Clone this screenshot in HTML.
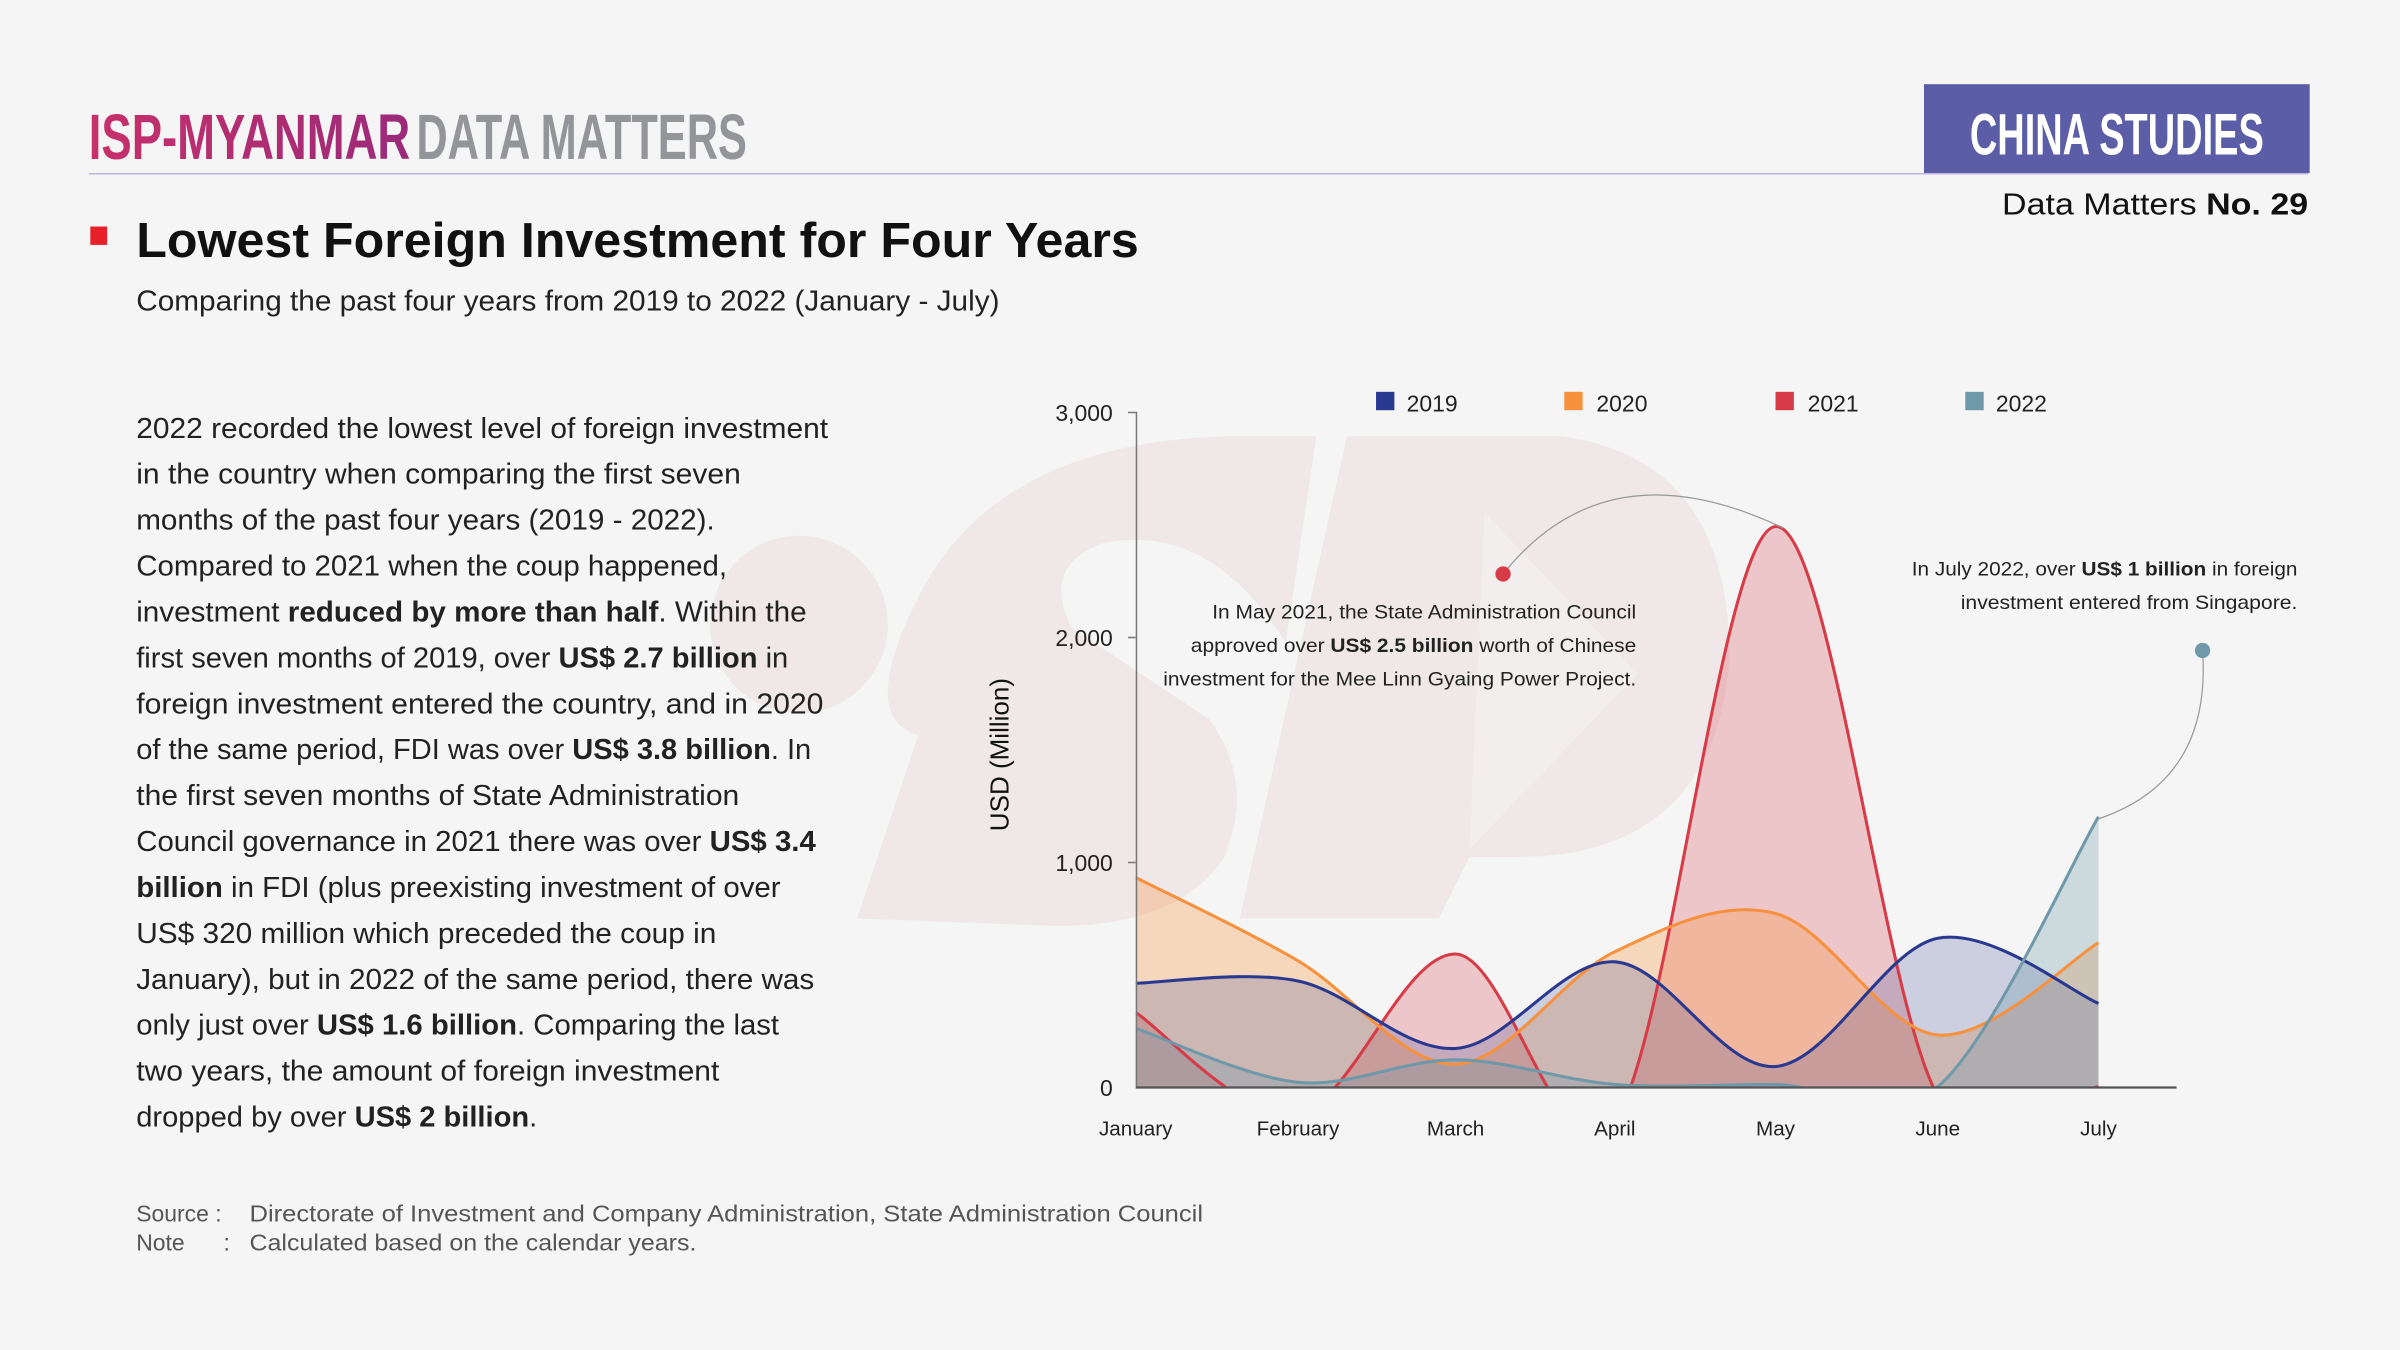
<!DOCTYPE html>
<html><head><meta charset="utf-8"><style>
html,body{margin:0;padding:0;background:#f4f5f4}
svg{display:block}
text{font-family:"Liberation Sans",sans-serif}
</style></head><body>
<svg width="2400" height="1350" viewBox="0 0 1568 882" preserveAspectRatio="none" xmlns="http://www.w3.org/2000/svg">
<defs>
<linearGradient id="g1" x1="0" x2="1"><stop offset="0" stop-color="#c8306a"/><stop offset="1" stop-color="#9a2a7a"/></linearGradient>
<clipPath id="cp"><rect x="742" y="250" width="690" height="460"/></clipPath>
</defs>
<rect width="1568" height="882" fill="#f4f5f4"/>
<!-- watermark -->
<g fill="#f0e7e8">
<circle cx="522" cy="408" r="58"/>
<path d="M 560 600 L 600 480 Q 560 470 600 390 Q 650 290 800 285 L 860 285 L 840 420 Q 790 340 720 355 Q 680 370 700 410 L 790 470 Q 820 510 800 560 Q 770 605 690 605 Z"/>
<path d="M 880 285 L 1020 285 Q 1130 300 1130 430 Q 1120 560 990 560 L 960 560 L 940 600 L 810 600 Z" />
</g>
<path d="M 970 335 L 1070 440 L 960 555 Z" fill="#f4f5f4" opacity="0.5"/>
<!-- header -->
<text x="58" y="104" font-size="42" font-weight="bold" fill="url(#g1)" textLength="210" lengthAdjust="spacingAndGlyphs">ISP-MYANMAR</text>
<text x="272" y="104" font-size="42" font-weight="bold" fill="#939598" textLength="216" lengthAdjust="spacingAndGlyphs">DATA MATTERS</text>
<line x1="58" y1="113.5" x2="1508" y2="113.5" stroke="#bab6dd" stroke-width="1"/>
<rect x="1257" y="55" width="252" height="58" fill="#5b5ea6"/>
<text x="1383" y="101" text-anchor="middle" font-size="38" font-weight="bold" fill="#fff" textLength="192" lengthAdjust="spacingAndGlyphs">CHINA STUDIES</text>
<text x="1508" y="140" text-anchor="end" font-size="20" fill="#111" textLength="200" lengthAdjust="spacingAndGlyphs">Data Matters <tspan font-weight="bold">No. 29</tspan></text>
<rect x="59" y="148" width="11" height="12" fill="#e8202a"/>
<text x="89" y="168" font-size="32" font-weight="bold" fill="#111" textLength="655" lengthAdjust="spacingAndGlyphs">Lowest Foreign Investment for Four Years</text>
<text x="89" y="203" font-size="19" fill="#222" textLength="564" lengthAdjust="spacingAndGlyphs">Comparing the past four years from 2019 to 2022 (January - July)</text>
<!-- paragraph -->
<g font-size="19" fill="#222">
<text x="89" y="286" textLength="452" lengthAdjust="spacingAndGlyphs">2022 recorded the lowest level of foreign investment</text>
<text x="89" y="316" textLength="395" lengthAdjust="spacingAndGlyphs">in the country when comparing the first seven</text>
<text x="89" y="346" textLength="378" lengthAdjust="spacingAndGlyphs">months of the past four years (2019 - 2022).</text>
<text x="89" y="376" textLength="386" lengthAdjust="spacingAndGlyphs">Compared to 2021 when the coup happened,</text>
<text x="89" y="406" textLength="438" lengthAdjust="spacingAndGlyphs">investment <tspan font-weight="bold">reduced by more than half</tspan>. Within the</text>
<text x="89" y="436" textLength="426" lengthAdjust="spacingAndGlyphs">first seven months of 2019, over <tspan font-weight="bold">US$ 2.7 billion</tspan> in</text>
<text x="89" y="466" textLength="449" lengthAdjust="spacingAndGlyphs">foreign investment entered the country, and in 2020</text>
<text x="89" y="496" textLength="441" lengthAdjust="spacingAndGlyphs">of the same period, FDI was over <tspan font-weight="bold">US$ 3.8 billion</tspan>. In</text>
<text x="89" y="526" textLength="394" lengthAdjust="spacingAndGlyphs">the first seven months of State Administration</text>
<text x="89" y="556" textLength="444" lengthAdjust="spacingAndGlyphs">Council governance in 2021 there was over <tspan font-weight="bold">US$ 3.4</tspan></text>
<text x="89" y="586" textLength="421" lengthAdjust="spacingAndGlyphs"><tspan font-weight="bold">billion</tspan> in FDI (plus preexisting investment of over</text>
<text x="89" y="616" textLength="379" lengthAdjust="spacingAndGlyphs">US$ 320 million which preceded the coup in</text>
<text x="89" y="646" textLength="443" lengthAdjust="spacingAndGlyphs">January), but in 2022 of the same period, there was</text>
<text x="89" y="676" textLength="420" lengthAdjust="spacingAndGlyphs">only just over <tspan font-weight="bold">US$ 1.6 billion</tspan>. Comparing the last</text>
<text x="89" y="706" textLength="381" lengthAdjust="spacingAndGlyphs">two years, the amount of foreign investment</text>
<text x="89" y="736" textLength="262" lengthAdjust="spacingAndGlyphs">dropped by over <tspan font-weight="bold">US$ 2 billion</tspan>.</text>
</g>
<!-- footer -->
<g font-size="15" fill="#555">
<text x="89" y="798">Source :</text><text x="163" y="798" textLength="623" lengthAdjust="spacingAndGlyphs">Directorate of Investment and Company Administration, State Administration Council</text>
<text x="89" y="817">Note</text><text x="146" y="817">:</text><text x="163" y="817" textLength="292" lengthAdjust="spacingAndGlyphs">Calculated based on the calendar years.</text>
</g>
<!-- chart areas -->
<g clip-path="url(#cp)">
<path fill="#d63b47" fill-opacity="0.25" d="M742 661.5 C759.7 672.5 813.2 734 848 727.6 C882.8 721.2 916.5 622.6 951 623.3 C985.5 624.1 1020.2 778.7 1055 732.1 C1089.8 685.5 1124.8 346.7 1160 344 C1195.2 341.3 1230.8 654.9 1266 715.9 C1301.2 776.9 1353.5 711 1371 710 L1371 710 L742 710 Z"/>
<path fill="#f7913d" fill-opacity="0.3" d="M742 573.3 C759.7 582.4 813.2 607.4 848 627.7 C882.8 648 916.5 696.3 951 695.3 C985.5 694.3 1020.2 638.2 1055 621.8 C1089.8 605.4 1124.8 587.7 1160 596.8 C1195.2 605.9 1230.8 673 1266 676.2 C1301.2 679.4 1353.5 626 1371 615.9 L1371 710 L742 710 Z"/>
<path fill="#2a3990" fill-opacity="0.2" d="M742 642.4 C759.7 642.15 813.2 633.8 848 640.9 C882.8 648 916.5 687.1 951 685 C985.5 682.9 1020.2 626.4 1055 628.4 C1089.8 630.4 1124.8 699.4 1160 696.8 C1195.2 694.2 1230.8 619.9 1266 613 C1301.2 606.1 1353.5 648.5 1371 655.6 L1371 710 L742 710 Z"/>
<path fill="#6f98a8" fill-opacity="0.3" d="M742 671.8 C759.7 677.7 813.2 703.7 848 707.1 C882.8 710.5 916.5 692.2 951 692.4 C985.5 692.6 1020.2 705.8 1055 708.5 C1089.8 711.2 1124.8 708.25 1160 708.5 C1195.2 708.75 1230.8 739.2 1266 710 C1301.2 680.6 1353.5 563 1371 533.6 L1371 710 L742 710 Z"/>
<g fill="none" stroke-width="2">
<path stroke="#d63b47" d="M742 661.5 C759.7 672.5 813.2 734 848 727.6 C882.8 721.2 916.5 622.6 951 623.3 C985.5 624.1 1020.2 778.7 1055 732.1 C1089.8 685.5 1124.8 346.7 1160 344 C1195.2 341.3 1230.8 654.9 1266 715.9 C1301.2 776.9 1353.5 711 1371 710"/>
<path stroke="#f7913d" d="M742 573.3 C759.7 582.4 813.2 607.4 848 627.7 C882.8 648 916.5 696.3 951 695.3 C985.5 694.3 1020.2 638.2 1055 621.8 C1089.8 605.4 1124.8 587.7 1160 596.8 C1195.2 605.9 1230.8 673 1266 676.2 C1301.2 679.4 1353.5 626 1371 615.9"/>
<path stroke="#2a3990" d="M742 642.4 C759.7 642.15 813.2 633.8 848 640.9 C882.8 648 916.5 687.1 951 685 C985.5 682.9 1020.2 626.4 1055 628.4 C1089.8 630.4 1124.8 699.4 1160 696.8 C1195.2 694.2 1230.8 619.9 1266 613 C1301.2 606.1 1353.5 648.5 1371 655.6"/>
<path stroke="#6f98a8" d="M742 671.8 C759.7 677.7 813.2 703.7 848 707.1 C882.8 710.5 916.5 692.2 951 692.4 C985.5 692.6 1020.2 705.8 1055 708.5 C1089.8 711.2 1124.8 708.25 1160 708.5 C1195.2 708.75 1230.8 739.2 1266 710 C1301.2 680.6 1353.5 563 1371 533.6"/>
</g>
</g>
<line x1="742.5" y1="269" x2="742.5" y2="710" stroke="#777" stroke-width="1"/>
<line x1="742" y1="710.5" x2="1422" y2="710.5" stroke="#555" stroke-width="1.5"/>
<g stroke="#777"><line x1="737" y1="269.5" x2="742" y2="269.5"/><line x1="737" y1="416.5" x2="742" y2="416.5"/><line x1="737" y1="563.5" x2="742" y2="563.5"/></g>
<g font-size="15" fill="#222" text-anchor="end">
<text x="727" y="275">3,000</text><text x="727" y="422">2,000</text><text x="727" y="569">1,000</text><text x="727" y="716">0</text>
</g>
<g font-size="13.5" fill="#222" text-anchor="middle">
<text x="742" y="742">January</text><text x="848" y="742">February</text><text x="951" y="742">March</text><text x="1055" y="742">April</text><text x="1160" y="742">May</text><text x="1266" y="742">June</text><text x="1371" y="742">July</text>
</g>
<text transform="translate(659,493) rotate(-90)" text-anchor="middle" font-size="17" fill="#111">USD (Million)</text>
<g font-size="15" fill="#222">
<rect x="899" y="256" width="12" height="12" fill="#2a3990"/><text x="919" y="269">2019</text>
<rect x="1022" y="256" width="12" height="12" fill="#f7913d"/><text x="1043" y="269">2020</text>
<rect x="1160" y="256" width="12" height="12" fill="#d63b47"/><text x="1181" y="269">2021</text>
<rect x="1284" y="256" width="12" height="12" fill="#6f98a8"/><text x="1304" y="269">2022</text>
</g>
<!-- annotations -->
<path d="M 982 375 Q 1050 290 1165 345" fill="none" stroke="#999" stroke-width="0.8"/>
<circle cx="982" cy="375" r="5" fill="#d63b47"/>
<g font-size="12.5" fill="#222" text-anchor="end">
<text x="1069" y="404" textLength="277" lengthAdjust="spacingAndGlyphs">In May 2021, the State Administration Council</text>
<text x="1069" y="426" textLength="291" lengthAdjust="spacingAndGlyphs">approved over <tspan font-weight="bold">US$ 2.5 billion</tspan> worth of Chinese</text>
<text x="1069" y="448" textLength="309" lengthAdjust="spacingAndGlyphs">investment for the Mee Linn Gyaing Power Project.</text>
<text x="1501" y="376" textLength="252" lengthAdjust="spacingAndGlyphs">In July 2022, over <tspan font-weight="bold">US$ 1 billion</tspan> in foreign</text>
<text x="1501" y="398" textLength="220" lengthAdjust="spacingAndGlyphs">investment entered from Singapore.</text>
</g>
<path d="M 1439 425 Q 1445 510 1371 535" fill="none" stroke="#999" stroke-width="0.8"/>
<circle cx="1439" cy="425" r="5" fill="#6f98a8"/>
</svg>
</body></html>
